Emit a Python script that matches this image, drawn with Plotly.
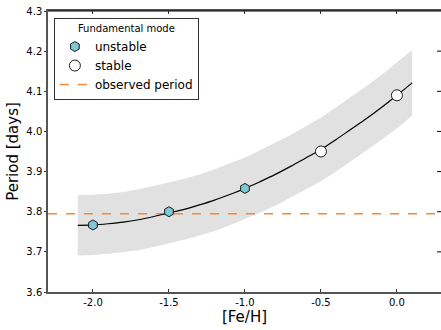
import plotly.graph_objects as go

# Data
feh_unstable = [-2.0, -1.5, -1.0]
period_unstable = [3.767, 3.800, 3.858]
feh_stable = [-0.5, 0.0]
period_stable = [3.950, 4.090]

fit_feh = [-2.1, -2.0, -1.9, -1.8, -1.7, -1.6, -1.5, -1.4, -1.3, -1.2, -1.1, -1.0,
           -0.9, -0.8, -0.7, -0.6, -0.5, -0.4, -0.3, -0.2, -0.1, 0.0, 0.1]
fit_period = [3.766, 3.767, 3.770, 3.774, 3.780, 3.788, 3.797, 3.806, 3.817, 3.829, 3.843, 3.858,
              3.875, 3.893, 3.913, 3.934, 3.955, 3.980, 4.006, 4.032, 4.060, 4.090, 4.121]
band_upper = [3.841, 3.842, 3.845, 3.849, 3.856, 3.864, 3.873, 3.882, 3.893, 3.906, 3.920, 3.935,
              3.953, 3.971, 3.991, 4.013, 4.034, 4.060, 4.086, 4.113, 4.141, 4.172, 4.203]
band_lower = [3.691, 3.692, 3.695, 3.699, 3.704, 3.712, 3.721, 3.730, 3.741, 3.752, 3.766, 3.781,
              3.798, 3.815, 3.835, 3.855, 3.876, 3.900, 3.926, 3.951, 3.979, 4.008, 4.039]
observed_period = 3.795
x_range = [-2.296, 0.29]
y_range = [3.6, 4.3]
x_ticks = [-2.0, -1.5, -1.0, -0.5, 0.0]
y_ticks = [3.6, 3.7, 3.8, 3.9, 4.0, 4.1, 4.2, 4.3]

FONT = "DejaVu Sans"
fig = go.Figure()

fig.add_trace(go.Scatter(x=fit_feh, y=band_upper, mode="lines", line=dict(width=0),
                         showlegend=False, hoverinfo="skip"))
fig.add_trace(go.Scatter(x=fit_feh, y=band_lower, mode="lines", line=dict(width=0),
                         fill="tonexty", fillcolor="rgba(225,225,225,1)",
                         showlegend=False, hoverinfo="skip"))
fig.add_trace(go.Scatter(x=x_range, y=[observed_period, observed_period], mode="lines",
                         line=dict(color="#f08a3c", width=1.5, dash="dash"),
                         name="observed period", legendrank=3))
fig.add_trace(go.Scatter(x=fit_feh, y=fit_period, mode="lines", line=dict(color="black", width=1.2),
                         line_shape="spline", showlegend=False))
fig.add_trace(go.Scatter(x=feh_unstable, y=period_unstable, mode="markers",
                         marker=dict(symbol="hexagon", size=10, color="#7ec8d8",
                                     line=dict(color="#1a1a1a", width=1)),
                         name="unstable", legendrank=1))
fig.add_trace(go.Scatter(x=feh_stable, y=period_stable, mode="markers",
                         marker=dict(symbol="circle", size=11, color="white",
                                     line=dict(color="#1a1a1a", width=1)),
                         name="stable", legendrank=2))

fig.update_layout(
    width=441, height=330,
    margin=dict(l=48, r=0, t=11, b=38),
    plot_bgcolor="white", paper_bgcolor="white",
    font=dict(family=FONT, size=10, color="black"),
    showlegend=True,
    legend=dict(
        x=0.015, y=0.975, xanchor="left", yanchor="top",
        traceorder="normal",
        bgcolor="white", bordercolor="#333333", borderwidth=1,
        title=dict(text="Fundamental mode", side="top center", font=dict(size=10, family=FONT)),
        font=dict(size=12, family=FONT),
        itemwidth=30, tracegroupgap=2,
    ),
    xaxis=dict(
        range=x_range, tickvals=x_ticks, ticktext=["-2.0", "-1.5", "-1.0", "-0.5", "0.0"],
        showgrid=False, zeroline=False, showline=True, linecolor="#555555", linewidth=1.5,
        ticks="inside", ticklen=3, tickcolor="#333333", mirror="ticks",
        title=dict(text="[Fe/H]", font=dict(size=15, family=FONT), standoff=2),
        tickfont=dict(size=10), automargin=False,
    ),
    yaxis=dict(
        range=y_range, tickvals=y_ticks, ticktext=["3.6", "3.7", "3.8", "3.9", "4.0", "4.1", "4.2", "4.3"],
        showgrid=False, zeroline=False, showline=True, linecolor="#555555", linewidth=1.5,
        ticks="outside", ticklen=2, tickcolor="#333333",
        title=dict(text="Period [days]", font=dict(size=15, family=FONT), standoff=4),
        tickfont=dict(size=10), automargin=False,
    ),
)
fig.add_shape(type="line", xref="paper", yref="paper", x0=0, x1=1, y0=1, y1=1,
              line=dict(color="black", width=1.2))
for yv in y_ticks[1:-1]:
    fig.add_shape(type="line", xref="paper", yref="y", x0=0.99, x1=1.0, y0=yv, y1=yv,
                  line=dict(color="black", width=1))

fig.write_html("out.html", config={"displayModeBar": False},
               post_script="document.body.style.margin='0';document.body.style.overflow='hidden';")
